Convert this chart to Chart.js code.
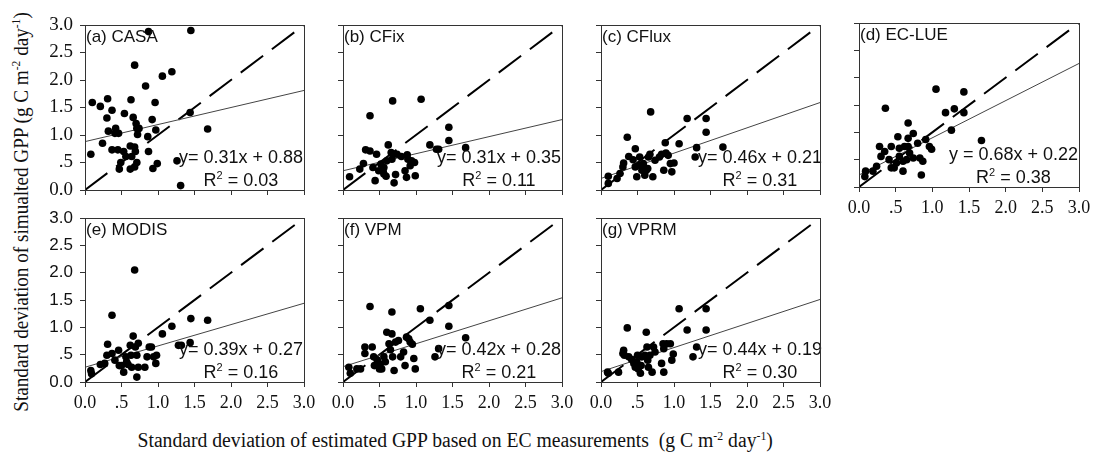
<!DOCTYPE html>
<html>
<head>
<meta charset="utf-8">
<script src="https://cdn.jsdelivr.net/npm/chart.js@4.4.1/dist/chart.umd.min.js"></script>
<style>
  html, body { margin: 0; padding: 0; background: #fff; }
  body { width: 1094px; height: 453px; position: relative; overflow: hidden; }
  canvas { position: absolute; }
  .axis-title { position: absolute; font-family: "Liberation Serif", "Times New Roman", serif; color: #111; white-space: nowrap; line-height: 1; }
  .axis-title sup { font-size: 0.6em; vertical-align: 0.6em; line-height: 0; }
</style>
</head>
<body>
<div id="ytitle" class="axis-title">Standard deviation of simualted GPP (g C m<sup>-2</sup> day<sup>-1</sup>)</div>
<div id="xtitle" class="axis-title">Standard deviation of estimated GPP based on EC measurements&nbsp; (g C m<sup>-2</sup> day<sup>-1</sup>)</div>
<script>
// observed (EC) vs simulated GPP standard deviation, one pair of arrays per model
const casaObs = [0.08,0.10,0.21,0.31,0.30,0.32,0.24,0.37,0.42,0.41,0.46,0.37,0.45,0.49,0.47,0.54,0.53,0.56,0.62,0.63,0.68,0.66,0.70,0.71,0.72,0.68,0.62,0.68,0.71,0.64,0.69,0.74,0.83,0.86,0.87,0.92,0.96,0.97,0.99,0.93,0.87,1.06,1.19,1.45,1.44,1.68,1.26,1.31];
const casaSim = [0.65,1.59,1.52,1.66,1.31,1.07,0.85,1.45,1.12,1.03,1.03,0.73,0.73,0.50,0.38,1.39,0.70,0.61,0.80,1.64,2.27,1.32,1.21,1.12,1.01,0.78,0.38,0.42,0.50,0.61,0.70,1.12,1.89,0.97,0.70,1.28,1.59,1.09,0.48,0.39,2.88,2.07,2.15,2.90,1.41,1.11,0.53,0.08];

const cfixObs = [0.09,0.23,0.28,0.31,0.37,0.37,0.46,0.41,0.44,0.49,0.52,0.56,0.56,0.60,0.62,0.68,0.66,0.69,0.70,0.72,0.74,0.67,0.85,0.87,0.88,0.89,0.92,0.98,0.99,1.07,1.19,1.28,1.31,1.45,1.45,1.68,0.80,0.94,0.55,0.59];
const cfixSim = [0.24,0.38,0.48,0.73,0.71,1.35,0.65,0.41,0.17,0.35,0.47,0.29,0.41,0.53,0.82,1.62,0.68,0.65,0.13,0.28,0.65,0.56,0.35,0.23,0.64,0.56,0.44,0.50,0.26,1.65,0.82,0.74,0.74,1.14,0.90,0.77,0.61,0.53,0.34,0.25];

const cfluxObs = [0.10,0.10,0.22,0.26,0.30,0.31,0.36,0.38,0.44,0.47,0.47,0.49,0.53,0.56,0.58,0.60,0.64,0.65,0.67,0.68,0.71,0.74,0.83,0.88,0.89,0.86,0.92,0.95,0.97,1.00,1.07,1.18,1.29,1.31,1.44,1.44,1.67,0.53,0.62,0.80];
const cfluxSim = [0.25,0.12,0.21,0.30,0.42,0.49,0.96,0.61,0.55,0.75,0.42,0.24,0.45,0.36,0.48,0.27,0.39,0.60,0.65,1.42,0.24,0.54,0.65,0.86,0.67,0.36,0.63,0.48,0.33,0.49,0.84,1.30,0.60,0.77,1.30,1.05,0.78,0.60,0.36,0.60];

const eclueObs = [0.08,0.09,0.19,0.24,0.28,0.30,0.35,0.36,0.41,0.44,0.44,0.48,0.51,0.53,0.55,0.55,0.60,0.62,0.65,0.67,0.67,0.67,0.69,0.74,0.80,0.83,0.85,0.87,0.91,0.96,0.99,1.05,1.18,1.26,1.30,1.43,1.43,1.67,0.60,0.74];
const eclueSim = [0.19,0.29,0.29,0.38,0.74,0.56,0.65,1.44,0.50,0.74,0.35,0.35,0.44,0.92,0.71,0.56,0.29,0.74,0.50,1.17,0.89,0.74,0.62,0.98,0.80,0.53,0.22,0.47,0.87,0.74,0.69,1.79,1.36,1.04,1.43,1.74,1.36,0.85,0.47,0.53];

const modisObs = [0.08,0.09,0.21,0.27,0.31,0.30,0.37,0.37,0.41,0.46,0.47,0.50,0.53,0.56,0.59,0.62,0.63,0.64,0.66,0.68,0.69,0.71,0.71,0.73,0.73,0.82,0.85,0.88,0.91,0.94,0.97,0.98,1.06,1.19,1.28,1.32,1.44,1.45,1.68,0.57];
const modisSim = [0.21,0.15,0.32,0.34,0.69,0.49,1.22,0.52,0.40,0.58,0.30,0.30,0.18,0.46,0.32,0.67,0.49,0.27,0.84,2.05,0.64,0.09,0.49,0.71,0.27,0.27,0.46,0.64,0.64,0.46,0.34,0.49,0.88,1.02,0.67,0.67,0.72,1.16,1.13,0.37];

const vpmObs = [0.08,0.10,0.19,0.24,0.30,0.30,0.37,0.40,0.42,0.43,0.47,0.50,0.51,0.53,0.56,0.58,0.60,0.63,0.65,0.67,0.67,0.68,0.70,0.72,0.76,0.83,0.85,0.87,0.90,0.92,0.95,0.97,0.99,1.06,1.19,1.26,1.31,1.45,1.45,1.68,0.79];
const vpmSim = [0.27,0.16,0.24,0.24,0.64,0.52,1.38,0.64,0.46,0.30,0.40,0.24,0.33,0.24,0.46,0.37,0.91,0.70,0.59,1.28,0.88,0.46,0.21,0.73,0.76,0.55,0.30,0.82,0.79,0.73,0.69,0.43,0.24,1.34,1.13,0.46,0.61,1.40,1.02,0.81,0.46];

const vprmObs = [0.09,0.10,0.24,0.30,0.31,0.32,0.36,0.38,0.42,0.45,0.47,0.49,0.51,0.54,0.55,0.60,0.62,0.63,0.65,0.67,0.70,0.72,0.74,0.85,0.86,0.86,0.90,0.95,0.97,0.99,1.07,1.18,1.26,1.31,1.44,1.44,0.56,0.64,0.83,0.50];
const vprmSim = [0.18,0.16,0.18,0.52,0.58,0.49,0.99,0.46,0.41,0.34,0.27,0.37,0.24,0.16,0.30,0.49,0.91,0.64,0.27,0.49,0.18,0.64,0.55,0.70,0.61,0.18,0.70,0.70,0.40,0.51,1.34,0.95,0.46,0.64,1.34,0.95,0.46,0.40,0.34,0.49];

// regression results per panel
const panelLabels = ['(a) CASA', '(b) CFix', '(c) CFlux', '(d) EC-LUE', '(e) MODIS', '(f) VPM', '(g) VPRM'];
const slopes = [0.31, 0.31, 0.46, 0.68, 0.39, 0.42, 0.44];
const intercepts = [0.88, 0.35, 0.21, 0.22, 0.27, 0.28, 0.19];
const eqLabels = ['y= 0.31x + 0.88', 'y= 0.31x + 0.35', 'y= 0.46x + 0.21', 'y = 0.68x + 0.22', 'y= 0.39x + 0.27', 'y= 0.42x + 0.28', 'y= 0.44x + 0.19'];
const r2Values = ['0.03', '0.11', '0.31', '0.38', '0.16', '0.21', '0.30'];

// axes (same for x and y)
const axisMin = 0;
const axisMax = 3;
const axisStep = 0.5;
const tickLabels = ['0.0', '.5', '1.0', '1.5', '2.0', '2.5', '3.0'];

const obsSeries = [casaObs, cfixObs, cfluxObs, eclueObs, modisObs, vpmObs, vprmObs];
const simSeries = [casaSim, cfixSim, cfluxSim, eclueSim, modisSim, vpmSim, vprmSim];

(function () {
    // plot area of every panel in page pixels; yFont: which face the y tick labels use
    const boxes = [
        { l: 85, t: 25, r: 304, b: 190, yLab: 'serif', xLab: false },
        { l: 343, t: 25, r: 562, b: 190, yLab: null, xLab: false },
        { l: 601, t: 25, r: 820, b: 190, yLab: null, xLab: false },
        { l: 859, t: 23, r: 1079, b: 187, yLab: null, xLab: true },
        { l: 85, t: 218, r: 304, b: 382, yLab: 'sans', xLab: true },
        { l: 343, t: 218, r: 562, b: 382, yLab: null, xLab: true },
        { l: 601, t: 218, r: 820, b: 382, yLab: null, xLab: true }
    ];
    const PAD_L = 80, PAD_T = 20, PAD_R = 25, PAD_B = 40;
    const SERIF = '"Liberation Serif", "Times New Roman", serif';
    const SANS = '"Liberation Sans", Arial, sans-serif';
    const INK = '#111';
    const AXIS = '#333';

    // closes the box on top and right
    const framePlugin = {
        id: 'frame',
        afterDraw(chart) {
            const a = chart.chartArea, ctx = chart.ctx;
            ctx.save();
            ctx.strokeStyle = AXIS;
            ctx.lineWidth = 1;
            ctx.strokeRect(Math.round(a.left) + 0.5, Math.round(a.top) + 0.5, Math.round(a.right - a.left), Math.round(a.bottom - a.top));
            ctx.restore();
        }
    };

    // panel title, equation and R2
    const textPlugin = {
        id: 'panelText',
        afterDatasetsDraw(chart, args, opts) {
            const i = opts.index;
            const a = chart.chartArea, ctx = chart.ctx;
            ctx.save();
            ctx.fillStyle = INK;
            ctx.textBaseline = 'alphabetic';
            ctx.font = '17px ' + SANS;
            ctx.textAlign = 'left';
            ctx.fillText(panelLabels[i], a.left + 1, a.top + 17);

            ctx.font = '18px ' + SANS;
            const eq = eqLabels[i];
            const eqW = ctx.measureText(eq).width;
            const eqRight = a.right + (i === 2 || i === 6 ? 2 : -1);
            ctx.textAlign = 'right';
            ctx.fillText(eq, eqRight, a.bottom - 27);

            // R² centred under the equation
            const cx = eqRight - eqW / 2;
            const rest = ' = ' + r2Values[i];
            ctx.font = '18px ' + SANS;
            const wR = ctx.measureText('R').width;
            const wRest = ctx.measureText(rest).width;
            ctx.font = '11px ' + SANS;
            const w2 = ctx.measureText('2').width;
            let x = cx - (wR + w2 + wRest) / 2;
            const y = a.bottom - 4;
            ctx.textAlign = 'left';
            ctx.font = '18px ' + SANS;
            ctx.fillText('R', x, y);
            x += wR;
            ctx.font = '11px ' + SANS;
            ctx.fillText('2', x, y - 7);
            x += w2;
            ctx.font = '18px ' + SANS;
            ctx.fillText(rest, x, y);
            ctx.restore();
        }
    };

    function makePanel(i) {
        const box = boxes[i];
        const canvas = document.createElement('canvas');
        canvas.width = (box.r - box.l) + PAD_L + PAD_R;
        canvas.height = (box.b - box.t) + PAD_T + PAD_B;
        canvas.style.left = (box.l - PAD_L) + 'px';
        canvas.style.top = (box.t - PAD_T) + 'px';
        document.body.appendChild(canvas);

        const points = obsSeries[i].map((x, k) => ({ x, y: simSeries[i][k] }));
        const fitLine = [axisMin, axisMax].map(x => ({ x, y: slopes[i] * x + intercepts[i] }));
        const oneToOne = [axisMin, axisMax].map(v => ({ x: v, y: v }));

        const tickOpts = (show, family, size) => ({
            display: show,
            stepSize: axisStep,
            autoSkip: false,
            color: INK,
            font: { family, size },
            callback: (v, k) => tickLabels[k]
        });
        const yFamily = box.yLab === 'sans' ? SANS : SERIF;
        const ySize = box.yLab === 'sans' ? 17 : 19;

        new Chart(canvas.getContext('2d'), {
            type: 'scatter',
            data: {
                datasets: [
                    { data: points, backgroundColor: '#000', borderWidth: 0, pointRadius: 3.8, pointHoverRadius: 3.8 },
                    { data: fitLine, showLine: true, borderColor: '#444', borderWidth: 1, pointRadius: 0 },
                    { data: oneToOne, showLine: true, borderColor: '#000', borderWidth: 2, borderDash: [28, 11], pointRadius: 0 }
                ]
            },
            options: {
                responsive: false,
                animation: false,
                events: [],
                layout: { padding: { left: 0, top: PAD_T, right: PAD_R, bottom: 0 } },
                plugins: {
                    legend: { display: false },
                    tooltip: { enabled: false },
                    panelText: { index: i }
                },
                scales: {
                    x: {
                        type: 'linear', min: axisMin, max: axisMax,
                        ticks: Object.assign(tickOpts(box.xLab, SERIF, 18), { padding: 5, maxRotation: 0 }),
                        grid: { drawOnChartArea: false, tickLength: 5, color: AXIS },
                        border: { color: AXIS },
                        afterFit: s => { s.height = PAD_B; }
                    },
                    y: {
                        type: 'linear', min: axisMin, max: axisMax,
                        ticks: Object.assign(tickOpts(!!box.yLab, yFamily, ySize), { padding: 7 }),
                        grid: { drawOnChartArea: false, tickLength: 5, color: AXIS },
                        border: { color: AXIS },
                        afterFit: s => { s.width = PAD_L; }
                    }
                }
            },
            plugins: [framePlugin, textPlugin]
        });
    }

    // axis titles: squeeze to the span they take in the figure
    function placeTitle(id, cx, cy, span, size, rotate) {
        const el = document.getElementById(id);
        el.style.fontSize = size + 'px';
        const w = el.offsetWidth, h = el.offsetHeight;
        el.style.left = (cx - w / 2) + 'px';
        el.style.top = (cy - h / 2) + 'px';
        const s = span / w;
        el.style.transform = (rotate ? 'rotate(-90deg) ' : '') + 'scaleX(' + s.toFixed(3) + ')';
    }

    for (let i = 0; i < panelLabels.length; i++) makePanel(i);
    placeTitle('ytitle', 21, 212, 400, 22, true);
    placeTitle('xtitle', 455, 440, 635, 20, false);
})();
</script>
</body>
</html>
